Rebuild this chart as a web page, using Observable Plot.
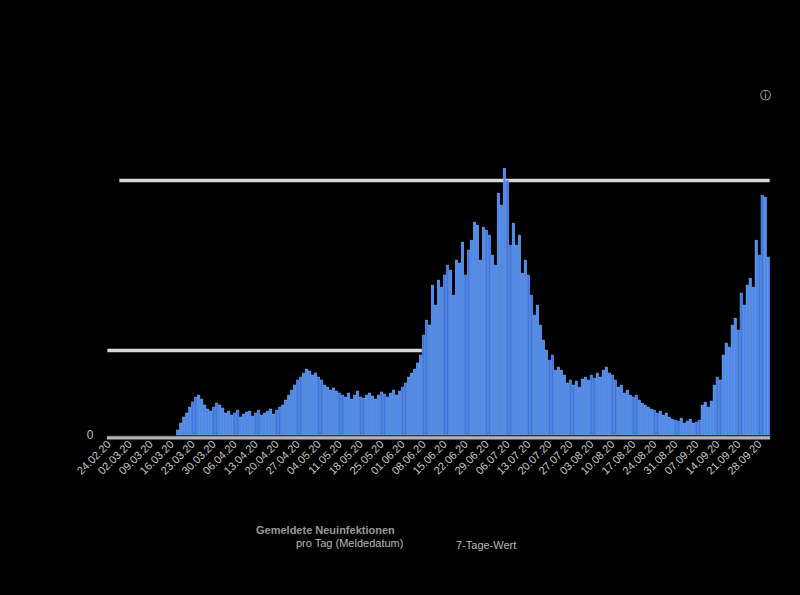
<!DOCTYPE html>
<html>
<head>
<meta charset="utf-8">
<script src="https://cdn.jsdelivr.net/npm/d3@7"></script>
<script src="https://cdn.jsdelivr.net/npm/@observablehq/plot@0.6"></script>
<style>
  html, body { margin: 0; padding: 0; background: #000; }
  body { width: 800px; height: 595px; position: relative; overflow: hidden; font-family: "Liberation Sans", Arial, sans-serif; }
  #chart { position: absolute; left: 0; top: 0; }
  .leg { position: absolute; font-size: 11px; color: #bbb; white-space: nowrap; }
  .leg b { color: #999; font-weight: bold; }
</style>
</head>
<body>
<div id="chart"></div>
<div class="leg" style="left:256px; top:524px; line-height:13px;"><b>Gemeldete Neuinfektionen</b><br><span style="padding-left:40px">pro Tag (Meldedatum)</span></div>
<div class="leg" style="left:456px; top:539px;">7-Tage-Wert</div>
<script>
// daily reported values (index 0 = first day)
const startDate = "2020-02-24";
const values = [
  0,0,0,0,0,0,0,0,0,0,0,0,0,0,0,0,0,0,0,0,0,0,0,
  59,141,212,259, 329,388,447,470, 423,353,306, 282,329,376, 353,318,259,
  282,235,259,294,212,247,270,282,223,259,294,235,259,282,306,247,294,329,
  353,412,470,529,588,647,682,
  729,776,753,706,729,
  682,647,588,564,529,553,517,494,
  470,447,494,423,470,517,447,435,470,494,459,423,470,506,482,447,494,529,470,517,
  564,612,682,729,776,847,941,
  1176,1352,1294,
  1764,1529,1823,1740,1882,
  1999,1940,1646,2058,2023,
  2270,1882,2176,2293,
  2505,2470,2058,2446,2411,
  2352,2117,1999,
  2846,2705,
  3140,2999,2234,
  2493,2234,
  2352,1905,2058,1882,
  1646,1411,1529,1294,1117,
  1000,882,941,764,800,
  764,706,612,647,588,635,564,659,682,
  647,706,670,729,682,764,800,729,
  706,647,564,588,494,529,470,447,470,412,
  376,353,329,306,294,259,282,235,259,212,
  188,176,165,200,141,165,188,141,153,176,
  353,388,329,400,
  588,682,647,
  941,1082,1035,
  1294,1376,1235,
  1670,1529,
  1764,1846,1740,
  2293,2117,
  2822,2799,2093
];
const tickLabels = ["24.02.20","02.03.20","09.03.20","16.03.20","23.03.20","30.03.20","06.04.20","13.04.20",
  "20.04.20","27.04.20","04.05.20","11.05.20","18.05.20","25.05.20","01.06.20","08.06.20","15.06.20","22.06.20",
  "29.06.20","06.07.20","13.07.20","20.07.20","27.07.20","03.08.20","10.08.20","17.08.20","24.08.20","31.08.20",
  "07.09.20","14.09.20","21.09.20","28.09.20"];
const yTicks = [0, 1000, 3000];

const fmt = d3.utcFormat("%d.%m.%y");
const days = d3.utcDay.range(new Date(startDate + "T00:00Z"), d3.utcDay.offset(new Date(startDate + "T00:00Z"), values.length));
const dayLabels = days.map(fmt);
const data = values.map((v, i) => ({day: dayLabels[i], value: v, weekday: days[i].getUTCDay()}));
const tickSet = new Set(tickLabels);
const ticks = dayLabels.filter(d => tickSet.has(d));

const chart = Plot.plot({
  width: 800,
  height: 495,
  marginTop: 95,
  marginBottom: 60,
  marginLeft: 107,
  marginRight: 30,
  style: {background: "transparent", color: "#bbb", fontFamily: "Liberation Sans, Arial, sans-serif", fontSize: "11px"},
  x: {type: "band", domain: dayLabels, padding: 0.12},
  y: {domain: [0, 4000]},
  marks: [
    Plot.ruleY([{v: yTicks[2], a: dayLabels[4], b: dayLabels[dayLabels.length - 1]}], {y: "v", x1: "a", x2: "b", stroke: "#d8d8d8", strokeWidth: 3.5}),
    Plot.ruleY([{v: yTicks[1], a: dayLabels[0], b: dayLabels[104]}], {y: "v", x1: "a", x2: "b", stroke: "#d8d8d8", strokeWidth: 3.5}),
    Plot.ruleY([0], {stroke: "#b5b5b5", strokeWidth: 4, dy: 2}),
    Plot.ruleY([0], {stroke: "#1a1a1a", strokeWidth: 1.5}),
    Plot.barY(data, {x: "day", y: "value", fill: d => (d.weekday === 1 || d.weekday === 2) ? "#3b78e7" : "#4a8af4", stroke: "#8fb6f8", strokeWidth: 0.4}),
    Plot.axisY({ticks: [yTicks[0]], tickSize: 0, tickPadding: 14, color: "#bbb", fontSize: 12}),
    Plot.axisX({ticks, tickFormat: d => d, tickRotate: -45, tickSize: 0, tickPadding: 7, color: "#c8c8c8", fontSize: 11}),
    Plot.text(["ⓘ"], {frameAnchor: "top-right", dx: 0, dy: -4, fill: "#ddd", fontSize: 11})
  ]
});
document.getElementById("chart").appendChild(chart);
</script>
</body>
</html>
